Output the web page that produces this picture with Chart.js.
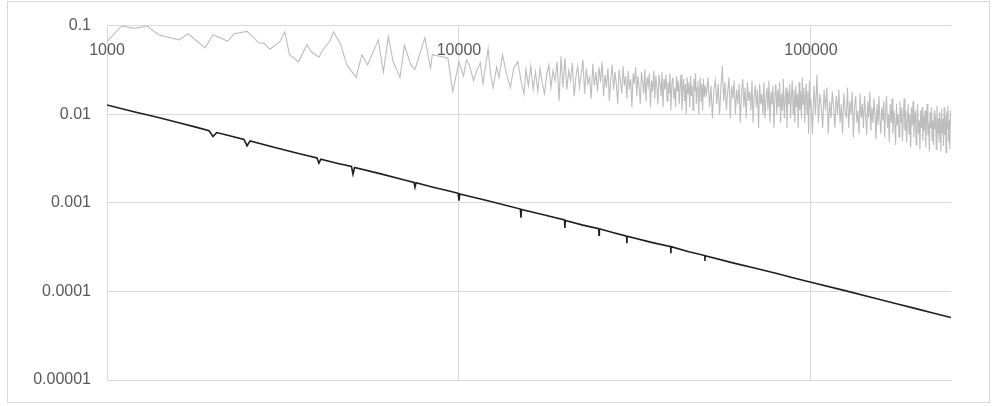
<!DOCTYPE html>
<html>
<head>
<meta charset="utf-8">
<script src="https://cdn.jsdelivr.net/npm/chart.js@4.4.1/dist/chart.umd.min.js"></script>
<style>
  html, body { margin: 0; padding: 0; background: #fff; }
  #wrap { position: relative; width: 994px; height: 406px; }
  #frame { position: absolute; left: 7px; top: 1px; width: 983px; height: 402px; border: 1px solid #d9d9d9; box-sizing: border-box; pointer-events: none; }
</style>
</head>
<body>
<div id="wrap">
  <canvas id="chart" width="994" height="406"></canvas>
  <div id="frame"></div>
</div>
<script>
// tick values and labels
const xTicks = [1000, 10000, 100000];
const xLabels = ['1000', '10000', '100000'];
const yTicks = [0.00001, 0.0001, 0.001, 0.01, 0.1];
const yLabels = ['0.00001', '0.0001', '0.001', '0.01', '0.1'];

// black series
const blackX = [1000, 1200, 1400, 1600, 1800, 1950, 2000, 2050, 2200, 2450, 2500, 2550, 3000, 3500, 3950, 4000, 4050,
  4500, 4950, 5000, 5050, 6000, 7000, 7450, 7500, 7550, 8500, 9500, 9950, 10000, 10050, 12000, 14950, 15000, 15050,
  17500, 19950, 20000, 20050, 22500, 24950, 25000, 25050, 27500, 29950, 30000, 30050, 35000, 39950, 40000, 40050,
  45000, 49950, 50000, 50050, 60000, 70000, 80000, 90000, 100000, 125000, 150000, 175000, 200000, 225000, 250000];
const blackY = [0.0127, 0.0106, 0.0092, 0.0080, 0.0071, 0.0065, 0.0056, 0.0062, 0.0058, 0.0052, 0.0044, 0.0050, 0.0042, 0.0036, 0.0032, 0.0028, 0.0031,
  0.0028, 0.00257, 0.0021, 0.0025, 0.00212, 0.00181, 0.0017, 0.0015, 0.00168, 0.00149, 0.00134, 0.00128, 0.00106, 0.00126, 0.00106, 0.00085, 0.00068, 0.00084,
  0.00073, 0.00064, 0.00052, 0.00063, 0.00056, 0.00051, 0.00043, 0.00051, 0.00046, 0.00042, 0.00035, 0.00042, 0.00036, 0.00032, 0.00027, 0.00032,
  0.00028, 0.000254, 0.00022, 0.000253, 0.00021, 0.000181, 0.000159, 0.000141, 0.000127, 0.000102, 0.0000847, 0.0000726, 0.0000635, 0.0000564, 0.0000508];

// gray series, sparse part
const grayX1 = [1000, 1100, 1200, 1300, 1400, 1600, 1700, 1900, 2000, 2200, 2300, 2500, 2700, 2800, 2900, 3100, 3200, 3300, 3500, 3700,
  3800, 4000, 4100, 4300, 4400, 4600, 4800, 5100, 5300, 5500, 5900, 6100, 6300, 6500, 6800, 7000, 7300, 7500, 8000, 8300,
  8400, 8800, 9300, 9600, 10000, 10300, 10500, 10700, 11000, 11200, 11500, 11700, 12100, 12300, 12500, 12800, 13000, 13300, 13600, 14000,
  14300, 14700, 15000, 15300, 15500, 15750, 16000, 16250, 16500, 16750, 17000, 17250, 17500, 17750, 18000, 18250, 18500, 18750, 19000, 19250,
  19500, 19750];
const grayY1 = [0.066, 0.099, 0.093, 0.099, 0.079, 0.069, 0.081, 0.056, 0.079, 0.067, 0.081, 0.086, 0.064, 0.063, 0.054, 0.066, 0.085, 0.047, 0.039, 0.061,
  0.051, 0.044, 0.053, 0.067, 0.085, 0.063, 0.036, 0.026, 0.047, 0.036, 0.069, 0.030, 0.075, 0.039, 0.026, 0.060, 0.036, 0.032, 0.073, 0.033,
  0.047, 0.045, 0.043, 0.018, 0.039, 0.027, 0.041, 0.036, 0.024, 0.030, 0.038, 0.022, 0.055, 0.028, 0.020, 0.034, 0.026, 0.047, 0.030, 0.020,
  0.033, 0.039, 0.024, 0.017, 0.032, 0.021, 0.035, 0.019, 0.030, 0.018, 0.033, 0.022, 0.017, 0.028, 0.036, 0.020, 0.031, 0.024, 0.039, 0.014,
  0.045, 0.020];

// gray series, from 20000 every 250
const grayStart2 = 20000, grayStep2 = 250;
const grayY2 = [
  0.043, 0.019, 0.031, 0.024, 0.038, 0.016, 0.027, 0.035, 0.020, 0.029, 0.041,
  0.017, 0.033, 0.022, 0.026, 0.015, 0.037, 0.021, 0.030, 0.018, 0.034,
  0.023, 0.039, 0.016, 0.028, 0.020, 0.033, 0.014, 0.026, 0.036, 0.019,
  0.030, 0.022, 0.013, 0.032, 0.024, 0.017, 0.035, 0.021, 0.027, 0.015,
  0.031, 0.019, 0.025, 0.012, 0.029, 0.022, 0.034, 0.016, 0.027, 0.020,
  0.013, 0.030, 0.023, 0.017, 0.032, 0.014, 0.026, 0.021, 0.029, 0.012,
  0.024, 0.018, 0.031, 0.015, 0.027, 0.020, 0.013, 0.028, 0.022, 0.016,
  0.030, 0.012, 0.025, 0.019, 0.028, 0.014, 0.023, 0.017, 0.029, 0.011,
  0.022, 0.026, 0.015, 0.020, 0.012, 0.027, 0.018, 0.024, 0.013, 0.021,
  0.028, 0.011, 0.019, 0.025, 0.014, 0.022, 0.010, 0.026, 0.017, 0.023,
  0.012, 0.027, 0.016, 0.021, 0.011, 0.025, 0.018, 0.029, 0.013, 0.020,
  0.024, 0.010, 0.019, 0.026, 0.014, 0.022, 0.011, 0.025, 0.016, 0.021];

// gray series, from 50500 every 500
const grayStart3 = 50500, grayStep3 = 500;
const grayY3 = [
  0.017, 0.026, 0.012, 0.021, 0.009, 0.019, 0.024, 0.013, 0.022, 0.010,
  0.020, 0.035, 0.014, 0.023, 0.011, 0.018, 0.026, 0.009, 0.021, 0.015,
  0.024, 0.010, 0.019, 0.013, 0.022, 0.008, 0.017, 0.025, 0.012, 0.020,
  0.009, 0.023, 0.014, 0.018, 0.011, 0.024, 0.008, 0.016, 0.021, 0.012,
  0.019, 0.007, 0.022, 0.013, 0.017, 0.010, 0.023, 0.009, 0.015, 0.020,
  0.011, 0.024, 0.008, 0.018, 0.013, 0.021, 0.007, 0.016, 0.022, 0.010,
  0.019, 0.012, 0.023, 0.008, 0.017, 0.011, 0.025, 0.009, 0.015, 0.020,
  0.007, 0.018, 0.013, 0.022, 0.009, 0.016, 0.024, 0.010, 0.019, 0.008,
  0.021, 0.012, 0.017, 0.007, 0.023, 0.011, 0.018, 0.009, 0.026, 0.013,
  0.020, 0.008, 0.016, 0.022, 0.010, 0.018, 0.006, 0.024, 0.012];

// gray series, from 100000 every 1000
const grayStart4 = 100000, grayStep4 = 1000;
const grayY4 = [
  0.015, 0.006, 0.021, 0.010, 0.028, 0.008, 0.017, 0.012, 0.007, 0.019,
  0.011, 0.020, 0.006, 0.014, 0.009, 0.018, 0.012, 0.007, 0.016, 0.010,
  0.019, 0.008, 0.013, 0.006, 0.017, 0.011, 0.009, 0.020, 0.007, 0.014,
  0.010, 0.018, 0.0055, 0.012, 0.016, 0.008, 0.011, 0.006, 0.017, 0.009,
  0.013, 0.007, 0.016, 0.010, 0.0058, 0.014, 0.009, 0.018, 0.0065, 0.012,
  0.008, 0.015, 0.010, 0.0052, 0.013, 0.0075, 0.016, 0.009, 0.006, 0.012,
  0.0085, 0.014, 0.0055, 0.011, 0.016, 0.007, 0.010, 0.0048, 0.013, 0.008,
  0.015, 0.006, 0.011, 0.0085, 0.0045, 0.013, 0.0075, 0.010, 0.0055, 0.014,
  0.008, 0.012, 0.005, 0.0095, 0.015, 0.0065, 0.011, 0.0048, 0.0085, 0.013,
  0.006, 0.010, 0.0042, 0.012, 0.0075, 0.014, 0.0055, 0.009, 0.011, 0.0045,
  0.0095, 0.013, 0.006, 0.0085, 0.004, 0.011, 0.007, 0.012, 0.005, 0.0095,
  0.0065, 0.011, 0.0042, 0.009, 0.013, 0.0058, 0.008, 0.0038, 0.0105, 0.007,
  0.012, 0.005, 0.0085, 0.0045, 0.011, 0.0068, 0.0095, 0.004, 0.0125, 0.006,
  0.009, 0.0048, 0.0105, 0.0072, 0.0038, 0.0115, 0.0062, 0.0088, 0.0044, 0.012,
  0.0058, 0.0095, 0.0037, 0.0108, 0.0068, 0.0125, 0.0049, 0.0085, 0.004, 0.011, 0.0075];

const FONT = { family: "'Liberation Sans', Arial, sans-serif", size: 16 };
const LABEL_COLOR = '#595959';
const GRID_COLOR = '#d9d9d9';

function buildPoints() {
    const black = blackX.map((x, i) => ({ x: x, y: blackY[i] }));
    const gray = grayX1.map((x, i) => ({ x: x, y: grayY1[i] }));
    grayY2.forEach((y, i) => gray.push({ x: grayStart2 + i * grayStep2, y: y }));
    grayY3.forEach((y, i) => gray.push({ x: grayStart3 + i * grayStep3, y: y }));
    grayY4.forEach((y, i) => gray.push({ x: grayStart4 + i * grayStep4, y: y }));
    return { black, gray };
}

// x labels sit just under the top edge of the plot, like the original
const topLabels = {
    id: 'topLabels',
    afterDraw(chart) {
        const ctx = chart.ctx;
        const xs = chart.scales.x;
        ctx.save();
        ctx.font = FONT.size + 'px ' + FONT.family;
        ctx.fillStyle = LABEL_COLOR;
        ctx.textAlign = 'center';
        ctx.textBaseline = 'middle';
        xTicks.forEach((v, i) => {
            ctx.fillText(xLabels[i], xs.getPixelForValue(v), chart.chartArea.top + 25);
        });
        ctx.restore();
    }
};

function renderChart() {
    const pts = buildPoints();
    const ctx = document.getElementById('chart').getContext('2d');
    new Chart(ctx, {
        type: 'line',
        data: {
            datasets: [{
                data: pts.black,
                borderColor: '#1f1f1f',
                borderWidth: 1.6,
                pointRadius: 0,
                tension: 0
            }, {
                data: pts.gray,
                borderColor: '#bdbdbd',
                borderWidth: 1.1,
                pointRadius: 0,
                tension: 0
            }]
        },
        options: {
            responsive: false,
            animation: false,
            layout: { padding: { left: 0, right: 43, top: 22, bottom: 26 } },
            plugins: {
                legend: { display: false },
                tooltip: { enabled: false }
            },
            scales: {
                x: {
                    type: 'logarithmic',
                    position: 'bottom',
                    min: 1000,
                    max: 250000,
                    afterBuildTicks: (scale) => { scale.ticks = xTicks.map(v => ({ value: v })); },
                    afterFit: (scale) => { scale.height = 0; },
                    grid: { color: GRID_COLOR, drawTicks: false },
                    border: { color: GRID_COLOR },
                    ticks: { display: false }
                },
                y: {
                    type: 'logarithmic',
                    min: 0.00001,
                    max: 0.1,
                    afterBuildTicks: (scale) => { scale.ticks = yTicks.map(v => ({ value: v })); },
                    afterFit: (scale) => { scale.width = 107; },
                    grid: { color: GRID_COLOR, drawTicks: false },
                    border: { color: GRID_COLOR },
                    ticks: {
                        padding: 16,
                        color: LABEL_COLOR,
                        font: FONT,
                        callback: function(value) {
                            const i = yTicks.indexOf(value);
                            return i >= 0 ? yLabels[i] : '';
                        }
                    }
                }
            }
        },
        plugins: [topLabels]
    });
}

renderChart();
</script>
</body>
</html>
